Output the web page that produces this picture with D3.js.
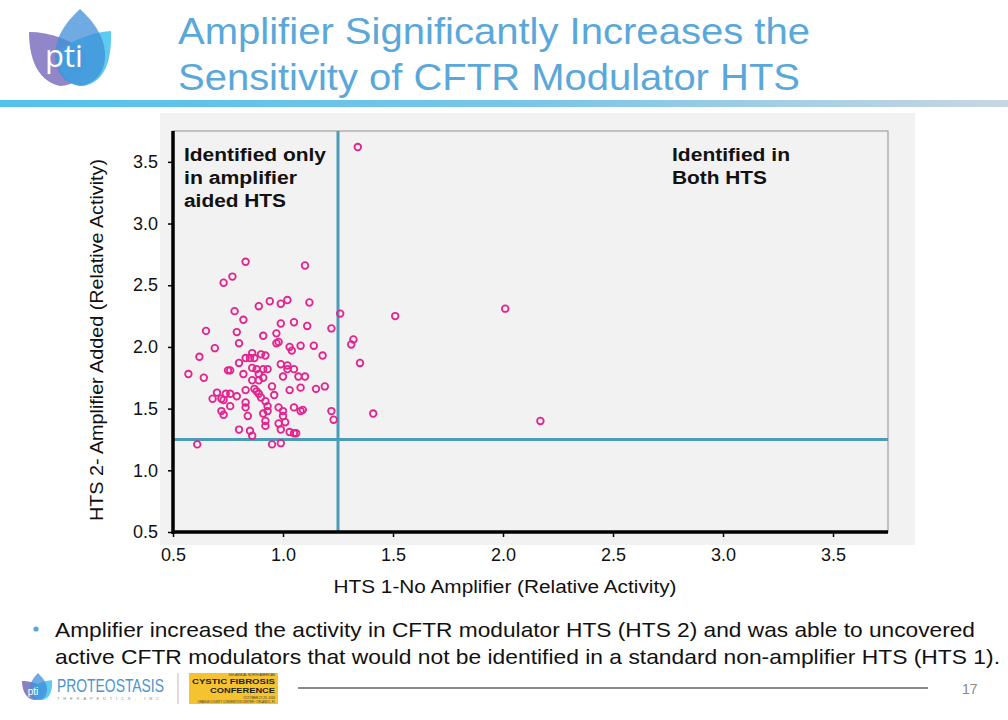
<!DOCTYPE html>
<html>
<head>
<meta charset="utf-8">
<script src="https://cdn.jsdelivr.net/npm/d3@7"></script>
<style>
html,body{margin:0;padding:0;background:#fff;}
svg{display:block;font-family:"Liberation Sans",Arial,sans-serif;}
</style>
</head>
<body>
<svg id="chart" width="1008" height="720"></svg>
<script>
// ---- data ----
const hts1 = [0.83,1.10,0.77,0.73,0.94,1.02,0.99,0.89,1.12,0.78,1.26,0.82,1.05,0.99,1.11,1.22,0.65,0.79,0.97,0.91,
  0.97,0.98,0.80,1.32,1.31,0.69,1.03,1.08,1.14,1.04,1.18,0.62,0.86,0.83,0.90,0.92,0.85,0.87,0.80,1.35,
  0.99,1.02,0.57,0.75,0.76,0.86,0.88,0.91,0.93,1.02,1.05,0.64,0.82,0.89,1.00,1.07,1.10,0.86,0.89,0.91,
  0.95,1.08,1.15,1.19,1.03,0.83,0.87,0.88,0.89,0.70,0.74,0.76,0.96,0.79,0.68,0.72,0.73,0.90,0.92,0.83,
  0.76,0.83,0.93,0.98,1.05,1.00,1.08,1.09,0.72,0.73,0.93,0.91,0.84,1.22,1.00,1.23,0.92,1.01,0.98,0.92,
  0.99,0.80,0.85,0.86,1.03,1.05,1.06,0.61,0.95,0.99,1.34,1.51,2.01,1.41,2.17];
const hts2 = [2.69,2.66,2.57,2.52,2.37,2.38,2.35,2.33,2.36,2.29,2.27,2.22,2.20,2.19,2.17,2.15,2.13,2.12,2.11,2.09,
  2.03,2.04,2.03,2.06,2.02,1.99,2.00,2.01,2.01,1.97,1.93,1.92,1.95,1.91,1.94,1.93,1.91,1.91,1.87,1.87,
  1.86,1.85,1.78,1.81,1.81,1.83,1.82,1.82,1.82,1.82,1.82,1.75,1.78,1.78,1.76,1.76,1.76,1.73,1.73,1.75,
  1.68,1.67,1.66,1.68,1.65,1.65,1.66,1.64,1.62,1.63,1.62,1.62,1.61,1.60,1.58,1.58,1.57,1.59,1.56,1.55,
  1.52,1.51,1.52,1.51,1.51,1.48,1.48,1.49,1.48,1.45,1.48,1.46,1.44,1.48,1.44,1.41,1.40,1.39,1.38,1.36,
  1.33,1.33,1.32,1.28,1.31,1.30,1.30,1.21,1.21,1.22,3.62,2.25,2.31,1.46,1.40];
const xTicks = [0.5,1.0,1.5,2.0,2.5,3.0,3.5];
const yTicks = [0.5,1.0,1.5,2.0,2.5,3.0,3.5];
const threshold = 1.25;
const titleLines = ["Amplifier Significantly Increases the","Sensitivity of CFTR Modulator HTS"];
const bulletLines = ["Amplifier increased the activity in CFTR modulator HTS (HTS 2) and was able to uncovered",
  "active CFTR modulators that would not be identified in a standard non-amplifier HTS (HTS 1)."];
const leftNote = ["Identified only","in amplifier","aided HTS"];
const rightNote = ["Identified in","Both HTS"];
const xTitle = "HTS 1-No Amplifier (Relative Activity)";
const yTitle = "HTS 2- Amplifier Added (Relative Activity)";

const svg = d3.select("#chart");
const defs = svg.append("defs");

// ---- header ----
const g1 = defs.append("linearGradient").attr("id","bar").attr("x1","0").attr("x2","1");
g1.append("stop").attr("offset","0").attr("stop-color","#52c1ec");
g1.append("stop").attr("offset","0.55").attr("stop-color","#7cc6e6");
g1.append("stop").attr("offset","1").attr("stop-color","#c9d6e3");
svg.append("rect").attr("x",0).attr("y",100).attr("width",1008).attr("height",7).attr("fill","url(#bar)");

// logo petals
const logo = svg.append("g");
logo.append("path").attr("d","M29,32 C50,32 72,40 86,52 C88,72 76,86 60,86 C40,82 29,62 29,32Z")
  .attr("fill","#8b80c4").attr("opacity",0.95);
logo.append("path").attr("d","M111,31 C92,32 72,40 58,52 C56,72 68,86 84,86 C104,82 112,62 111,31Z")
  .attr("fill","#4fc6ef").attr("opacity",0.92);
logo.append("path").attr("d","M80,9 C66,22 54,38 55,58 C56,74 66,84 80,86 C94,84 104,74 105,58 C106,38 94,22 80,9Z")
  .attr("fill","#3f8fd8").attr("opacity",0.75);
logo.append("text").attr("x",64).attr("y",67).attr("text-anchor","middle").attr("fill","#fff")
  .attr("font-size",31).attr("font-family","'Open Sans',sans-serif").text("pti");

svg.selectAll("text.title").data(titleLines).join("text").attr("class","title")
  .attr("x",178).attr("y",(d,i)=>44+i*46).attr("fill","#5aa8da").attr("font-size",37)
  .attr("textLength",(d,i)=>i===0?632:622).attr("lengthAdjust","spacingAndGlyphs").text(d=>d);

// ---- plot ----
svg.append("rect").attr("x",160).attr("y",113).attr("width",755).attr("height",432).attr("fill","#f2f2f2");

const x = d3.scaleLinear().domain([0.5,3.75]).range([173,888]);
const y = d3.scaleLinear().domain([0.5,3.75]).range([532,131]);

svg.append("rect").attr("x",x(0.5)).attr("y",y(3.75)).attr("width",x(3.75)-x(0.5)).attr("height",y(0.5)-y(3.75))
  .attr("fill","none").attr("stroke","#a0a0a0").attr("stroke-width",1.2);

// threshold lines
svg.append("line").attr("x1",x(threshold)).attr("x2",x(threshold)).attr("y1",y(3.75)).attr("y2",y(0.5))
  .attr("stroke","#4b9cb8").attr("stroke-width",3);
svg.append("line").attr("x1",x(0.5)).attr("x2",x(3.75)).attr("y1",y(threshold)).attr("y2",y(threshold))
  .attr("stroke","#4b9cb8").attr("stroke-width",3);

// points
const pts = hts1.map((v,i)=>({x:v,y:hts2[i]}));
svg.append("g").selectAll("circle").data(pts).join("circle")
  .attr("cx",d=>x(d.x)).attr("cy",d=>y(d.y)).attr("r",3.3)
  .attr("fill","none").attr("stroke","#e2248f").attr("stroke-width",1.8);

// axes
const fmt = d3.format(".1f");
const ax = svg.append("g").attr("transform",`translate(0,${y(0.5)})`)
  .call(d3.axisBottom(x).tickValues(xTicks).tickFormat(fmt).tickSize(5).tickPadding(11));
const ay = svg.append("g").attr("transform",`translate(${x(0.5)},0)`)
  .call(d3.axisLeft(y).tickValues(yTicks).tickFormat(fmt).tickSize(5).tickPadding(10));
[ax,ay].forEach(a=>{
  a.select(".domain").attr("stroke","#000").attr("stroke-width",3.5);
  a.selectAll(".tick line").attr("stroke","#000").attr("stroke-width",1.5);
  a.selectAll(".tick text").attr("font-size",18).attr("fill","#111")
    .attr("font-family","'Liberation Sans',Arial,sans-serif");
});
ax.select(".domain").attr("d",`M${x(0.5)},0H${x(3.75)}`);
ay.select(".domain").attr("d",`M0,${y(0.5)+2}V${y(3.75)}`);

// axis titles
svg.append("text").attr("x",505).attr("y",593).attr("text-anchor","middle").attr("font-size",18)
  .attr("fill","#111").attr("textLength",343).attr("lengthAdjust","spacingAndGlyphs").text(xTitle);
svg.append("text").attr("transform","translate(103,340) rotate(-90)").attr("text-anchor","middle")
  .attr("font-size",18).attr("fill","#111").attr("textLength",362).attr("lengthAdjust","spacingAndGlyphs").text(yTitle);

// notes
const lw = [142,113,102], rw=[118,95];
svg.selectAll("text.ln").data(leftNote).join("text").attr("class","ln")
  .attr("x",184).attr("y",(d,i)=>161+i*23).attr("font-size",18).attr("font-weight","bold").attr("fill","#111")
  .attr("textLength",(d,i)=>lw[i]).attr("lengthAdjust","spacingAndGlyphs").text(d=>d);
svg.selectAll("text.rn").data(rightNote).join("text").attr("class","rn")
  .attr("x",672).attr("y",(d,i)=>161+i*23).attr("font-size",18).attr("font-weight","bold").attr("fill","#111")
  .attr("textLength",(d,i)=>rw[i]).attr("lengthAdjust","spacingAndGlyphs").text(d=>d);

// ---- bullet text ----
svg.append("circle").attr("cx",36).attr("cy",629).attr("r",2.6).attr("fill","#5aa8da");
svg.selectAll("text.bl").data(bulletLines).join("text").attr("class","bl")
  .attr("x",55).attr("y",(d,i)=>637+i*27).attr("font-size",21).attr("fill","#111")
  .attr("textLength",(d,i)=>i===0?920:945).attr("lengthAdjust","spacingAndGlyphs").text(d=>d);

// ---- footer ----
const f = svg.append("g");
f.append("path").attr("d","M22,681 C30,681 38,683 44,688 C45,696 40,700 34,700 C27,699 22,692 22,681Z").attr("fill","#8b80c4");
f.append("path").attr("d","M52,680 C44,681 37,683 32,688 C31,696 36,700 42,700 C49,699 53,692 52,680Z").attr("fill","#4fc6ef").attr("opacity",0.9);
f.append("path").attr("d","M38,673 C33,678 29,684 30,691 C31,697 34,700 38,700 C43,700 46,697 47,691 C48,684 43,678 38,673Z").attr("fill","#3f8fd8").attr("opacity",0.75);
f.append("text").attr("x",33).attr("y",695).attr("text-anchor","middle").attr("fill","#fff").attr("font-size",10).text("pti");
f.append("text").attr("x",57).attr("y",692).attr("font-size",19).attr("fill","#4b93cf")
  .attr("textLength",107).attr("lengthAdjust","spacingAndGlyphs").text("PROTEOSTASIS");
f.append("text").attr("x",57).attr("y",699.5).attr("font-size",4).attr("fill","#888")
  .attr("textLength",107).attr("lengthAdjust","spacing").text("THERAPEUTICS, INC.");
f.append("line").attr("x1",178).attr("x2",178).attr("y1",673).attr("y2",704).attr("stroke","#bbb").attr("stroke-width",1);
f.append("rect").attr("x",189).attr("y",673).attr("width",89).attr("height",31).attr("fill","#f5c330");
f.append("text").attr("x",275).attr("y",676.3).attr("text-anchor","end").attr("font-size",3).attr("fill","#333").text("30th ANNUAL NORTH AMERICAN");
f.append("text").attr("x",275).attr("y",684.3).attr("text-anchor","end").attr("font-size",8).attr("font-weight","bold").attr("fill","#222")
  .attr("textLength",83).attr("lengthAdjust","spacingAndGlyphs").text("CYSTIC FIBROSIS");
f.append("text").attr("x",275).attr("y",693.4).attr("text-anchor","end").attr("font-size",8).attr("font-weight","bold").attr("fill","#222")
  .attr("textLength",65).attr("lengthAdjust","spacingAndGlyphs").text("CONFERENCE");
f.append("text").attr("x",275).attr("y",698.5).attr("text-anchor","end").attr("font-size",3).attr("fill","#333").text("OCTOBER 27-29, 2016");
f.append("text").attr("x",275).attr("y",702.6).attr("text-anchor","end").attr("font-size",2.8).attr("fill","#333").text("ORANGE COUNTY CONVENTION CENTER • ORLANDO, FL");
f.append("line").attr("x1",298).attr("x2",928).attr("y1",688).attr("y2",688).attr("stroke","#8a8a8a").attr("stroke-width",2);
f.append("text").attr("x",962).attr("y",694).attr("font-size",14).attr("fill","#888").text("17");
</script>
</body>
</html>
